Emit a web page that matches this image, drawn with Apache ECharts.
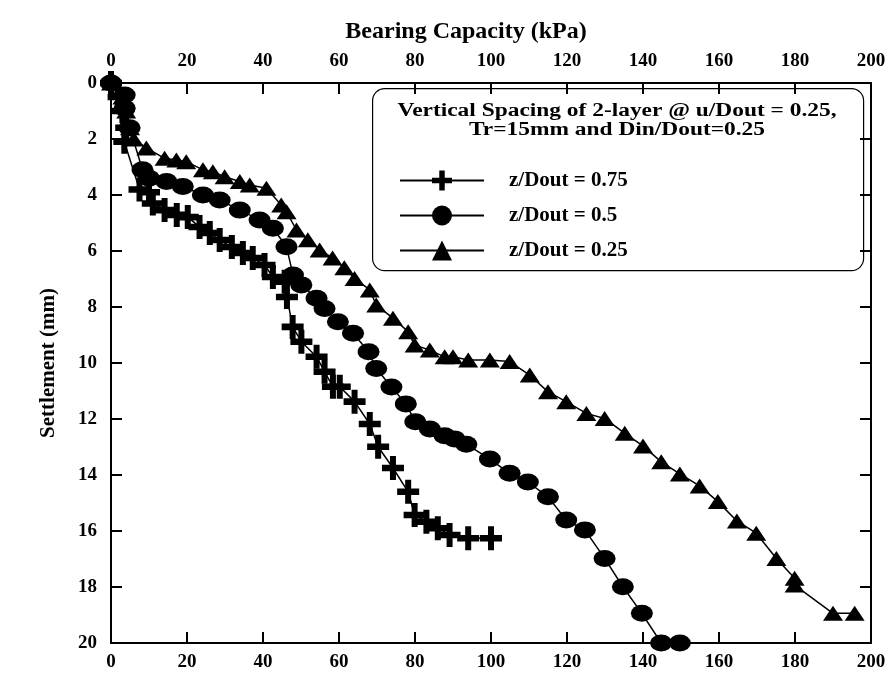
<!DOCTYPE html>
<html>
<head>
<meta charset="utf-8">
<script src="https://cdn.jsdelivr.net/npm/echarts@6/dist/echarts.min.js"></script>
<style>
  html, body { margin: 0; padding: 0; background: #fff; }
  #chart { width: 895px; height: 675px; }
</style>
</head>
<body>
<div id="chart"></div>
<script>
// load (kPa) / settlement (mm)
const load075 = [0, 2, 3, 4, 3.5, 7.5, 10, 11, 14.1, 17.3, 20.2, 23.3, 26, 28.6, 31.8, 34.7, 37.3, 40.4, 42.6, 45.7, 46.3, 47.8, 50.1, 54.1, 56.2, 58.4, 60.2, 64.1, 68.1, 70.3, 74.2, 78.2, 79.9, 83, 86, 89.1, 94, 100]
const settle075 = [0, 0.5, 1, 1.6, 2.1, 3.8, 3.9, 4.3, 4.54, 4.71, 4.79, 5.14, 5.36, 5.61, 5.86, 6.07, 6.25, 6.5, 6.93, 7.1, 7.64, 8.71, 9.24, 9.78, 10.31, 10.85, 10.85, 11.38, 12.18, 12.99, 13.75, 14.6, 15.43, 15.67, 15.9, 16.14, 16.26, 16.26]

const load05 = [0, 3.6, 3.6, 4.9, 8.3, 10, 14.6, 18.9, 24.2, 28.6, 33.9, 39.1, 42.6, 46.2, 47.9, 50.1, 54.1, 56.2, 59.7, 63.7, 67.8, 69.8, 73.8, 77.6, 80.1, 83.9, 87.8, 90.4, 93.5, 99.7, 104.9, 109.7, 115, 119.8, 124.7, 129.9, 134.7, 139.7, 144.8, 149.7]
const settle05 = [0, 0.43, 0.9, 1.6, 3.1, 3.4, 3.52, 3.7, 4, 4.18, 4.54, 4.89, 5.19, 5.85, 6.86, 7.21, 7.69, 8.05, 8.53, 8.94, 9.6, 10.2, 10.86, 11.46, 12.1, 12.36, 12.6, 12.71, 12.9, 13.43, 13.94, 14.25, 14.78, 15.61, 15.96, 16.98, 17.99, 18.94, 20, 20]

const load025 = [0, 3, 4, 5, 6, 9.3, 14.1, 17.2, 19.8, 24.2, 26.8, 29.9, 33.9, 36.5, 40.9, 44.8, 46.2, 48.8, 51.8, 54.9, 58.3, 61.4, 64.1, 68.1, 69.8, 74.2, 78.2, 79.9, 83.9, 87.8, 90, 94, 99.7, 104.9, 110.2, 115, 119.8, 125.1, 129.9, 135.2, 140, 144.8, 149.7, 154.9, 159.7, 164.7, 169.8, 175.1, 179.9, 179.9, 190, 195.7]
const settle025 = [0, 0.5, 1, 1.6, 2, 2.32, 2.69, 2.75, 2.81, 3.1, 3.17, 3.35, 3.52, 3.64, 3.76, 4.36, 4.6, 5.25, 5.6, 5.96, 6.25, 6.6, 6.98, 7.39, 7.93, 8.4, 8.88, 9.36, 9.54, 9.78, 9.78, 9.89, 9.89, 9.95, 10.43, 11.03, 11.38, 11.8, 11.98, 12.51, 12.96, 13.53, 13.96, 14.39, 14.95, 15.64, 16.08, 16.98, 17.69, 17.93, 18.94, 18.94]

const seriesNames = ['z/Dout = 0.75', 'z/Dout = 0.5', 'z/Dout = 0.25']
const legendTitle = ['Vertical Spacing of 2-layer @ u/Dout = 0.25,', 'Tr=15mm and Din/Dout=0.25']

const zip = (xs, ys) => xs.map((x, i) => [x, ys[i]])

const FONT = '"Liberation Serif", "Times New Roman", serif'
const plusPath = 'path://M8,0 H14 V8 H22 V14 H14 V22 H8 V14 H0 V8 H8 Z'

const chart = echarts.init(document.getElementById('chart'))

const xAxisBase = {
  type: 'value',
  min: 0,
  max: 200,
  interval: 20,
  axisLine: { show: true, onZero: false, lineStyle: { color: '#000', width: 2 } },
  axisTick: { show: true, inside: true, length: 11, lineStyle: { color: '#000', width: 2 } },
  splitLine: { show: false },
  axisLabel: { color: '#000', fontFamily: FONT, fontWeight: 'bold', fontSize: 19 }
}
const yAxisBase = {
  type: 'value',
  min: 0,
  max: 20,
  interval: 2,
  inverse: true,
  axisLine: { show: true, onZero: false, lineStyle: { color: '#000', width: 2 } },
  axisTick: { show: true, inside: true, length: 11, lineStyle: { color: '#000', width: 2 } },
  splitLine: { show: false },
  axisLabel: { color: '#000', fontFamily: FONT, fontWeight: 'bold', fontSize: 19 }
}

const lineSeries = (name, data, symbol, size) => ({
  name,
  type: 'line',
  data,
  symbol,
  symbolSize: size,
  showSymbol: true,
  lineStyle: { color: '#000', width: 1.5 },
  itemStyle: { color: '#000', borderWidth: 0 },
  emphasis: { disabled: true },
  animation: false
})

const option = {
  animation: false,
  grid: { left: 111, right: 24, top: 83, bottom: 32, containLabel: false },
  xAxis: [
    Object.assign({}, xAxisBase, {
      position: 'bottom',
      axisLabel: Object.assign({}, xAxisBase.axisLabel, { margin: 10 })
    }),
    Object.assign({}, xAxisBase, {
      position: 'top',
      name: 'Bearing Capacity (kPa)',
      nameLocation: 'middle',
      nameGap: 39,
      nameTextStyle: { color: '#000', fontFamily: FONT, fontWeight: 'bold', fontSize: 24, padding: [0, 50, 0, 0] },
      axisLabel: Object.assign({}, xAxisBase.axisLabel, { margin: 12 })
    })
  ],
  yAxis: [
    Object.assign({}, yAxisBase, {
      position: 'left',
      name: 'Settlement (mm)',
      nameLocation: 'middle',
      nameGap: 52,
      nameTextStyle: { color: '#000', fontFamily: FONT, fontWeight: 'bold', fontSize: 21 },
      axisLabel: Object.assign({}, yAxisBase.axisLabel, { margin: 14 })
    }),
    Object.assign({}, yAxisBase, {
      position: 'right',
      axisLabel: { show: false }
    })
  ],
  legend: {
    orient: 'vertical',
    left: 394,
    top: 165,
    itemWidth: 84,
    itemHeight: 25,
    itemGap: 14,
    data: seriesNames,
    selectedMode: false,
    textStyle: { color: '#000', fontFamily: FONT, fontWeight: 'bold', fontSize: 21, padding: [0, 0, 0, 20] }
  },
  graphic: [
    {
      type: 'rect',
      left: 372,
      top: 88,
      shape: { width: 491, height: 182, r: 12 },
      style: { fill: '#fff', stroke: '#000', lineWidth: 1.2 },
      z: 0
    },
    {
      type: 'text',
      x: 617,
      y: 102,
      scaleX: 1.3,
      style: {
        text: legendTitle.join('\n'),
        fill: '#000',
        font: 'bold 18px ' + FONT,
        textAlign: 'center',
        textVerticalAlign: 'top',
        lineHeight: 19
      },
      z: 1
    }
  ],
  series: [
    lineSeries(seriesNames[0], zip(load075, settle075), plusPath, [22, 24]),
    lineSeries(seriesNames[1], zip(load05, settle05), 'circle', [22, 17]),
    lineSeries(seriesNames[2], zip(load025, settle025), 'triangle', [20, 15])
  ]
}

chart.setOption(option)
</script>
</body>
</html>
